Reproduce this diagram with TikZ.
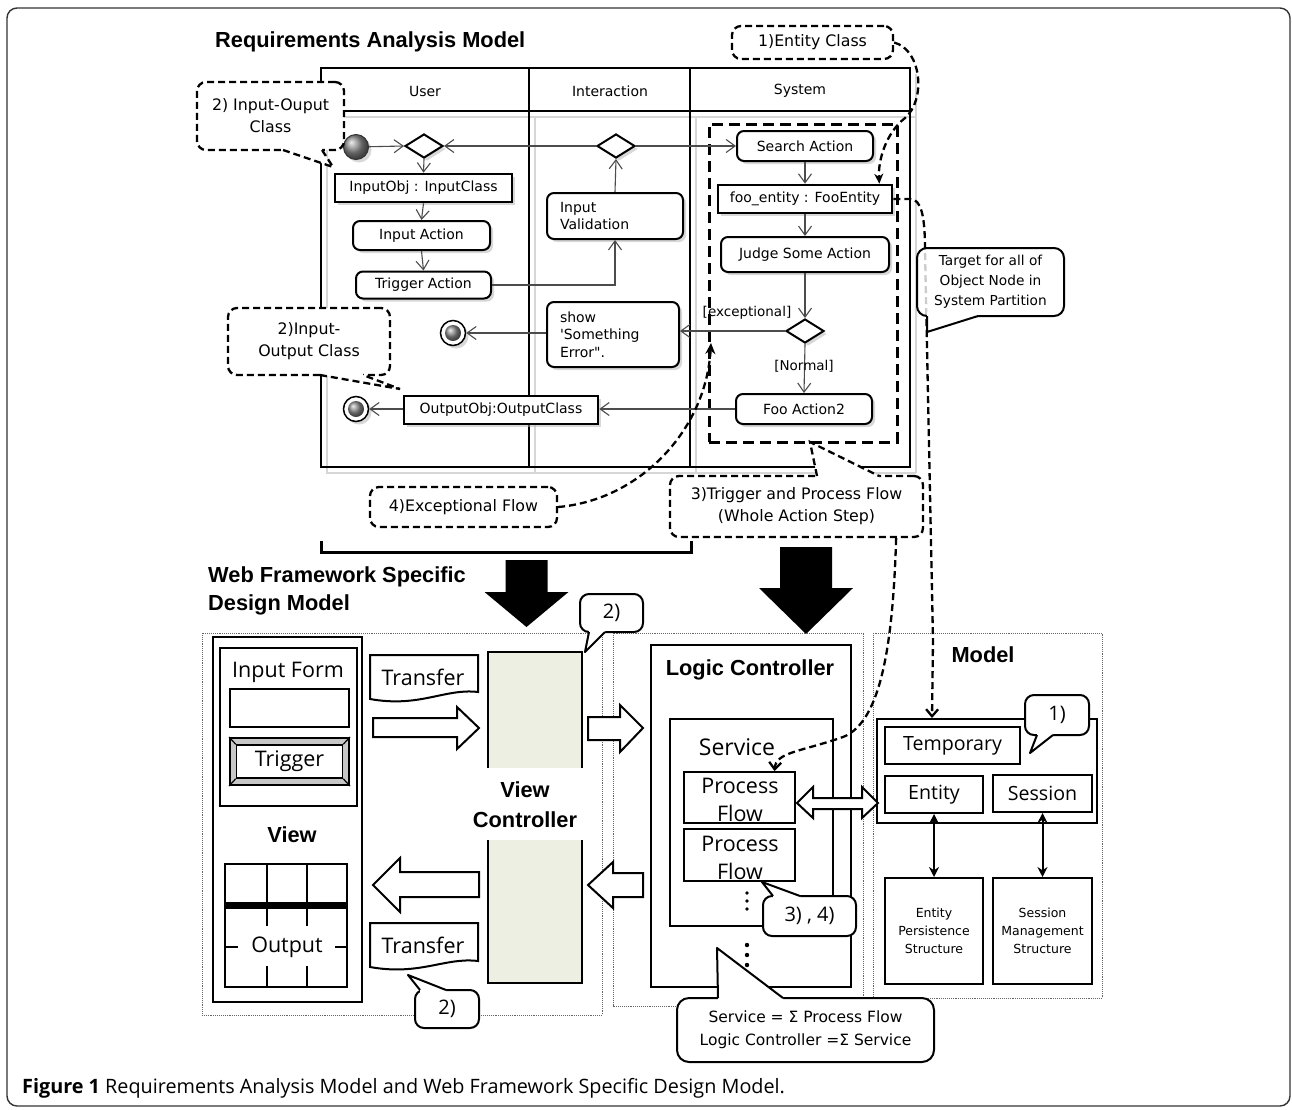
\documentclass[tikz,border=0pt]{standalone}
\usepackage{fontspec}
\setmainfont{DejaVu Sans}
\newfontfamily\umlf{DejaVu Sans}[Ligatures=TeXOff]
\newfontfamily\labf{Open Sans}
\newfontfamily\headf{Liberation Sans}
\newfontfamily\capf{Open Sans}
\usetikzlibrary{arrows.meta,shapes.geometric,shadows,calc}
\definecolor{vcfill}{RGB}{236,239,226}
\newcommand\fsz[2]{\fontsize{#1pt}{#2pt}\selectfont}
% speech-bubble tail: style, base point 1, base point 2, tip, inward shift
\newcommand\calltail[5]{%
  \fill[white] ($(#2)+(#5)$) -- (#2) -- (#4) -- (#3) -- ($(#3)+(#5)$) -- cycle;
  \draw[#1] (#2) -- (#4) -- (#3);}
\begin{document}
\begin{tikzpicture}[x=1pt,y=-1pt,
  lane/.style={line width=2.5pt},
  laneshade/.style={line width=1.6pt, black!16},
  hdr/.style={font=\umlf\fsz{14}{17}},
  shd/.style={drop shadow={shadow xshift=3pt,shadow yshift=-3pt,fill=black!30}},
  act/.style={draw, line width=2pt, rounded corners=7pt, fill=white, inner sep=0pt, font=\umlf\fsz{14}{17}, shd},
  obj/.style={draw, line width=2.6pt, fill=white, inner sep=0pt, font=\umlf\fsz{14}{17}, shd},
  dec/.style={diamond, draw, line width=2pt, fill=white, inner sep=0pt, minimum width=38pt, minimum height=24pt, shd},
  flow/.style={draw=black!70, line width=1.1pt, -{Straight Barb[length=9pt,width=13pt]}},
  guard/.style={font=\umlf\fsz{13.5}{16}},
  dcall/.style={draw, line width=2.3pt, dash pattern=on 7pt off 4pt, rounded corners=9pt, fill=white, inner sep=0pt, align=center, font=\umlf\fsz{15.8}{22}},
  dtail/.style={line width=2.3pt, dash pattern=on 7pt off 4pt},
  dlink/.style={line width=2.3pt, dash pattern=on 7pt off 4pt},
  scall/.style={draw, line width=2pt, rounded corners=9pt, fill=white, inner sep=0pt, align=center, font=\labf\fsz{20}{24}},
  stail/.style={line width=2pt, line join=round},
  title/.style={font=\headf\bfseries\fsz{21.8}{28}, align=left, inner sep=0pt},
  bold/.style={font=\headf\bfseries\fsz{21.8}{30}, align=center, inner sep=0pt},
  lab/.style={font=\labf\fsz{21.5}{28}, inner sep=0pt},
  part/.style={draw, line width=2pt, inner sep=0pt},
  panel/.style={draw=black!60, line width=0.9pt, densely dotted},
  hollow/.style={draw, line width=2pt, fill=white, line join=miter},
  both/.style={line width=2pt, {Stealth[length=10pt,width=10pt]}-{Stealth[length=10pt,width=10pt]}}
]
\useasboundingbox (0,0) rectangle (1292,1109);
\fill[white] (0,0) rectangle (1292,1109);

% outer frame
\draw[black!80, line width=1.4pt, rounded corners=10pt] (7,8) rectangle (1290,1106);

% ---------------- activity diagram with partitions ----------------
\node[title, anchor=west] (t1) at (215,42) {Requirements Analysis Model};

\draw[laneshade] (327,116) -- (327,473) -- (916,473);
\draw[laneshade] (321,117) -- (916,117);
\draw[laneshade] (535,116) -- (535,473);
\draw[laneshade] (696,116) -- (696,473);
\draw[laneshade] (916,74) -- (916,473);
\draw[lane] (321,68) rectangle (910,467);
\draw[lane] (321,111) -- (910,111);
\draw[lane] (529,68) -- (529,467);
\draw[lane] (690,68) -- (690,467);

\node[hdr] (hu) at (425,91) {User};
\node[hdr] (hi) at (610,91) {Interaction};
\node[hdr] (hs) at (800,91) {System};

% whole action step of the system partition
\node[draw, line width=3pt, dash pattern=on 11pt off 6pt, minimum width=188pt, minimum height=318pt, inner sep=0pt] (sysbox) at (803,283) {};

% user partition
\node[circle, draw=black!80, line width=1pt, minimum size=25pt, inner sep=0pt, shading=ball, ball color=black!45, shd] (init) at (356,147) {};
\node[dec] (d1) at (424,146) {};
\node[obj, minimum width=177pt, minimum height=28pt] (inobj) at (423.5,188) {InputObj : InputClass};
\node[act, minimum width=137pt, minimum height=29pt] (inact) at (421.5,235.5) {Input Action};
\node[act, minimum width=135pt, minimum height=27pt] (trig) at (423.5,285) {Trigger Action};
\node[circle, draw, line width=1.5pt, minimum size=25pt, inner sep=0pt, fill=white, shd] (fin1) at (453,333) {};
\shade[ball color=black!45] (fin1.center) circle (8pt);
\node[circle, draw, line width=1.5pt, minimum size=25pt, inner sep=0pt, fill=white, shd] (fin2) at (356,409) {};
\shade[ball color=black!45] (fin2.center) circle (8pt);
\node[obj, minimum width=194pt, minimum height=28pt] (outobj) at (501,410) {OutputObj:OutputClass};

% interaction partition
\node[dec] (d2) at (616,146) {};
\node[act, minimum width=136pt, minimum height=46pt, text width=110pt, align=left, font=\umlf\fsz{14}{16.5}] (inval) at (615,216) {Input\\Validation};
\node[act, minimum width=132pt, minimum height=65pt, text width=106pt, align=left, font=\umlf\fsz{14}{17.5}] (show) at (613,334.5) {show\\'Something\\Error".};

% system partition
\node[act, minimum width=136pt, minimum height=30pt] (search) at (805,146) {Search Action};
\node[obj, minimum width=174pt, minimum height=28pt] (foo) at (805,199) {foo\_entity : FooEntity};
\node[act, minimum width=168pt, minimum height=35pt] (judge) at (805,254.5) {Judge Some Action};
\node[dec] (d3) at (805,331) {};
\node[act, minimum width=136pt, minimum height=30pt] (fooact) at (804,409) {Foo Action2};

% control flows
\draw[flow] (init) -- (d1.west);
\draw[flow] (d1.south) -- (inobj.north);
\draw[flow] (inobj.south) -- (inact.north);
\draw[flow] (inact.south) -- (trig.north);
\draw[flow] (trig.east) -| (inval.south);
\draw[flow] (inval.north) -- (d2.south);
\draw[flow] (d2.west) -- (d1.east);
\draw[flow] (d2.east) -- (search.west);
\draw[flow] (search.south) -- (foo.north);
\draw[flow] (foo.south) -- (judge.north);
\draw[flow] (judge.south) -- (d3.north);
\draw[flow] (d3.west) -- (show.east |- d3.west);
\draw[flow] (show.west |- fin1) -- (fin1);
\draw[flow] (d3.south) -- (fooact.north);
\draw[flow] (fooact.west) -- (outobj.east |- fooact.west);
\draw[flow] (outobj.west |- fin2) -- (fin2);

\node[guard] (gx) at (747,313) {[exceptional]};
\node[guard] (gn) at (804,366) {[Normal]};

% annotations
\node[dcall, minimum width=161pt, minimum height=33pt] (cent) at (812.5,42.5) {1)Entity Class};
\node[dcall, minimum width=147pt, minimum height=68pt] (cio1) at (270.5,116) {2) Input-Ouput\\Class};
\calltail{dtail}{283,150}{322,150}{333,167}{0,-4}
\node[dcall, minimum width=162pt, minimum height=67pt] (cio2) at (309,341.5) {2)Input-\\Output Class};
\calltail{dtail}{320,375}{363,375}{400,389}{0,-4}
\node[dcall, minimum width=187pt, minimum height=40pt] (cexc) at (463.5,507) {4)Exceptional Flow};
\node[dcall, minimum width=253pt, minimum height=61pt] (ctrig) at (796.5,506.5) {3)Trigger and Process Flow\\(Whole Action Step)};
\calltail{dtail}{817,476}{879,476}{810,442}{0,4}

\draw[dlink, -{Stealth[length=10pt,width=9pt]}] (cent.east) .. controls (922,50) and (926,100) .. (905,118) .. controls (886,133) and (878,160) .. ($(foo.north east)+(-14,0)$);
\coordinate (excpt) at (711,343);
\draw[dlink, -{Stealth[length=11pt,width=10pt]}] (cexc.east) .. controls (640,500) and (706,430) .. (excpt);

% bracket and transformation arrows
\draw[line width=3pt] (321,541) -- (321,552) -- (691,552) -- (691,541);
\fill (505.5,560) -- (547.5,560) -- (547.5,592) -- (568.5,592) -- (526.5,627) -- (484.5,592) -- (505.5,592) -- cycle;
\fill (780,547) -- (832,547) -- (832,588) -- (853,588) -- (806,634) -- (759,588) -- (780,588) -- cycle;

% ---------------- design model ----------------
\node[title, anchor=west] (t2) at (208,591) {Web Framework Specific\\Design Model};

\draw[panel] (202,633) rectangle (602,1015);
\draw[panel] (613,633) rectangle (863,1006);
\draw[panel] (873,633) rectangle (1102,998);

% view
\node[part, line width=1.6pt, minimum width=149pt, minimum height=365pt] (view) at (287.5,819.5) {};
\node[part, minimum width=137pt, minimum height=158pt] (form) at (288.5,727) {};
\node[lab] (formlbl) at (288,672) {Input Form};
\node[part, minimum width=119pt, minimum height=38pt] (field) at (289.5,708) {};
\node[part, fill=black!22, minimum width=119pt, minimum height=47pt] (btn) at (289.5,761.5) {};
\node[part, line width=1.5pt, fill=white, minimum width=106pt, minimum height=33pt, lab] (btnin) at (289.5,761.5) {Trigger};
\draw[line width=1.2pt] (btn.north west) -- (btnin.north west) (btn.north east) -- (btnin.north east)
  (btn.south west) -- (btnin.south west) (btn.south east) -- (btnin.south east);
\node[bold] (viewlbl) at (292,835) {View};
\node[part, line width=1.6pt, minimum width=122pt, minimum height=123pt] (outtab) at (286,925.5) {};
\draw[line width=1.6pt] (267,864) -- (267,905) (307,864) -- (307,905)
  (267,908) -- (267,926) (307,908) -- (307,926)
  (267,966) -- (267,987) (307,966) -- (307,987)
  (225,947) -- (238,947) (335,947) -- (347,947);
\draw[line width=7pt] (225,905.5) -- (347,905.5);
\node[lab] (outlbl) at (287,947) {Output};

% transfer documents
\draw[line width=2pt, fill=white] (370,655) -- (478,655) -- (478,692) .. controls (445,688) and (420,708) .. (370,699) -- cycle;
\node[lab] (tr1) at (423,677) {Transfer};
\draw[line width=2pt, fill=white] (370,923) -- (478,923) -- (478,961) .. controls (445,957) and (420,976) .. (370,967) -- cycle;
\node[lab] (tr2) at (423,945) {Transfer};

% view controller
\fill[vcfill] (488,652) rectangle (582,983);
\fill[white] (480,768) rectangle (590,840);
\draw[line width=2pt] (488,768) |- (582,652) -- (582,768);
\draw[line width=2pt] (488,840) |- (582,983) -- (582,840);
\node[minimum width=94pt, minimum height=331pt, inner sep=0pt] (vc) at (535,817.5) {};
\node[bold] (vclbl) at (525,805) {View\\Controller};

\draw[hollow] (373,718) -- (457,718) -- (457,707) -- (479,728) -- (457,749) -- (457,737) -- (373,737) -- cycle;
\draw[hollow] (479,872) -- (400,872) -- (400,858) -- (373,885) -- (400,912) -- (400,897) -- (479,897) -- cycle;
\draw[hollow] (588,717) -- (620,717) -- (620,705) -- (643,728) -- (620,752) -- (620,740) -- (588,740) -- cycle;
\draw[hollow] (643,873) -- (613,873) -- (613,862) -- (588,885) -- (613,908) -- (613,897) -- (643,897) -- cycle;

% logic controller
\node[part, minimum width=200pt, minimum height=342pt] (lc) at (751,816) {};
\node[bold] (lclbl) at (750,670) {Logic Controller};
\node[part, minimum width=163pt, minimum height=207pt] (svc) at (751.5,822.5) {};
\node[lab, font=\labf\fsz{23}{28}] (svclbl) at (737,747) {Service};
\begin{scope}
  \clip (684,772) rectangle (795,823);
  \node[lab, align=center] (pf1t) at (740,800) {Process\\Flow};
\end{scope}
\begin{scope}
  \clip (684,829) rectangle (795,881);
  \node[lab, align=center] (pf2t) at (740,858) {Process\\Flow};
\end{scope}
\node[part, minimum width=111pt, minimum height=51pt] (pf1) at (739.5,797.5) {};
\node[part, minimum width=111pt, minimum height=52pt] (pf2) at (739.5,855) {};
\foreach \yy in {893,901,909} \fill (747,\yy) circle (1.8pt);
\foreach \yy in {945,955,965} \fill (747,\yy) circle (2.2pt);

% model
\node[bold] (mlbl) at (983,655) {Model};
\node[part, minimum width=220pt, minimum height=104pt] (mbox) at (987,771) {};
\node[part, font=\labf\fsz{19.6}{24}, minimum width=135pt, minimum height=37pt] (tmp) at (952.5,745.5) {Temporary};
\node[part, font=\labf\fsz{19.6}{24}, minimum width=98pt, minimum height=37pt] (ent) at (934,794.5) {Entity};
\node[part, font=\labf\fsz{19.6}{24}, minimum width=99pt, minimum height=37pt] (ses) at (1042.5,793.5) {Session};
\node[part, font=\umlf\fsz{12.5}{18}, align=center, minimum width=98pt, minimum height=106pt] (eps) at (934,931) {Entity\\Persistence\\Structure};
\node[part, font=\umlf\fsz{12.5}{18}, align=center, minimum width=99pt, minimum height=106pt] (sms) at (1042.5,931) {Session\\Management\\Structure};
\draw[both] (ent.south) -- (eps.north);
\draw[both] (ses.south) -- (sms.north);

\draw[hollow] (797,803) -- (813,787) -- (813,798) -- (862,798) -- (862,787) -- (878,803) -- (862,818) -- (862,809) -- (813,809) -- (813,818) -- cycle;

% design-side annotations
\node[scall, minimum width=63pt, minimum height=38pt] (c2a) at (611.5,613) {2)};
\calltail{stail}{589,632}{605,632}{585,652}{0,-4}
\node[scall, minimum width=64pt, minimum height=38pt] (c2b) at (447,1009) {2)};
\calltail{stail}{420,990}{446,990}{408,975}{0,4}
\node[scall, minimum width=93pt, minimum height=40pt] (c34) at (809.5,916) {3) , 4)};
\calltail{stail}{773,896}{800,896}{762,882}{0,4}
\node[scall, minimum width=64pt, minimum height=40pt] (c1) at (1057,715) {1)};
\calltail{stail}{1037,735}{1053,735}{1030,753}{0,-4}
\node[scall, minimum width=257pt, minimum height=64pt, rounded corners=12pt, font=\umlf\fsz{15.5}{23}] (csig) at (805.5,1030) {Service = Σ Process Flow\\Logic Controller =Σ Service};
\calltail{stail}{718,998}{783,998}{717,948}{0,4}

% mapping links
\draw[dlink, -{Straight Barb[length=7pt,width=12pt]}] ($(ctrig.south east)+(-28,0)$) .. controls (893,640) and (882,722) .. (843,737) .. controls (800,752) and (776,752) .. ($(pf1.north)+(35,0)$);
\draw[dlink, -{Straight Barb[length=7pt,width=12pt]}] (foo.east) -- (910,199) .. controls (921,199) and (925,215) .. (925,250) -- (933,640) -- ($(mbox.north west)+(56,0)$);

\node[scall, font=\umlf\fsz{13.7}{20}, fill opacity=0.8, text opacity=1, minimum width=147pt, minimum height=68pt, rounded corners=10pt] (ctgt) at (990.5,282) {Target for all of\\Object Node in\\System Partition};
\calltail{stail}{927,316}{978,316}{927,332}{0,-4}

% caption
\node[anchor=west, font=\capf\fsz{19.8}{23}, inner sep=0pt] (cap) at (22,1088) {\textbf{Figure 1} Requirements Analysis Model and Web Framework Specific Design Model.};
\end{tikzpicture}
\end{document}
